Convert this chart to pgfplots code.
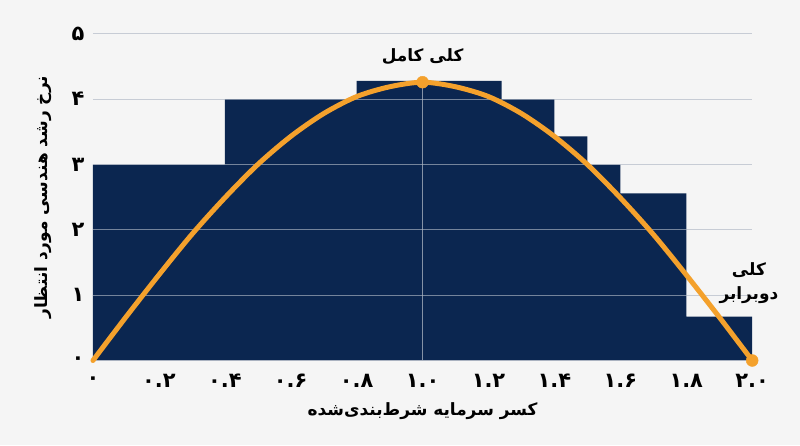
\documentclass[border=0pt]{standalone}
\usepackage{pgfplots}
\pgfplotsset{compat=1.18}
\usepackage{fontspec}
\TeXXeTstate=1
\newfontfamily\arabicfont[Script=Arabic]{DejaVu Sans}
\definecolor{bg}{HTML}{F5F5F5}
\definecolor{navy}{HTML}{0B2650}
\definecolor{kelly}{HTML}{F4A12C}
\definecolor{gridc}{RGB}{175,183,196}

\begin{document}
\pagecolor{bg}
\begin{tikzpicture}
\path (-90pt,-85pt) rectangle (710pt,362pt);
\begin{axis}[
    set layers,
    at={(0pt,0pt)}, anchor=south west,
    scale only axis, width=662pt, height=328pt,
    xmin=0, xmax=2, ymin=0, ymax=5,
    clip=false,
    axis line style={draw=none},
    major tick length=0pt,
    xtick={0,0.2,0.4,0.6,0.8,1.0,1.2,1.4,1.6,1.8,2.0},
    xticklabels={۰,۰.۲,۰.۴,۰.۶,۰.۸,۱.۰,۱.۲,۱.۴,۱.۶,۱.۸,۲.۰},
    ytick={0,1,2,3,4,5},
    yticklabels={۰,۱,۲,۳,۴,۵},
    ymajorgrids,
    grid style={draw=gridc, line width=1.2pt, opacity=0.65},
    ticklabel style={font={\fontsize{21}{24}\arabicfont\bfseries}},
    xticklabel style={anchor=center, yshift=-20pt},
    yticklabel style={anchor=center, xshift=-15pt},
    label style={font={\fontsize{17}{20}\arabicfont\bfseries}},
    xlabel={\beginR کسر سرمایه شرط‌بندی‌شده\endR},
    ylabel={\beginR نرخ رشد هندسی مورد انتظار\endR},
    xlabel style={at={(axis description cs:0.5,-0.155)}, anchor=center},
    ylabel style={at={(axis description cs:-0.0755,0.5)}, anchor=center},
]
% step bars
\addplot[on layer=axis background, const plot, fill=navy, draw=none] coordinates {
    (0,3) (0.4,4) (0.8,4.28) (1.24,4) (1.4,3.43) (1.5,3) (1.6,2.56) (1.8,0.67) (2.0,0.67)
} \closedcycle;
% vertical guide at full Kelly
\addplot[draw=gridc, line width=1.2pt, opacity=0.75] coordinates {(1,0) (1,4.26)};
% growth curve
\addplot[kelly, line width=5pt, line cap=round, line join=round, smooth] coordinates {
    (0,0) (0.1,0.665) (0.2,1.31) (0.3,1.93) (0.4,2.49) (0.5,3.0)
    (0.6,3.43) (0.7,3.78) (0.8,4.04) (0.9,4.19) (1.0,4.26)
    (1.1,4.19) (1.2,4.04) (1.3,3.78) (1.4,3.43) (1.5,3.0)
    (1.6,2.49) (1.7,1.93) (1.8,1.31) (1.9,0.665) (2.0,0)
};
\addplot[only marks, mark=*, mark size=6pt, kelly] coordinates {(1.0,4.26) (2.0,0)};
\node[font={\fontsize{17}{20}\arabicfont\bfseries}] at (axis cs:1.0,4.65) {\beginR کلی کامل\endR};
\node[font={\fontsize{17}{24}\arabicfont\bfseries}, align=center] at (axis cs:1.99,1.18) {\beginR کلی\endR\\\beginR دوبرابر\endR};
\end{axis}
\end{tikzpicture}
\end{document}
